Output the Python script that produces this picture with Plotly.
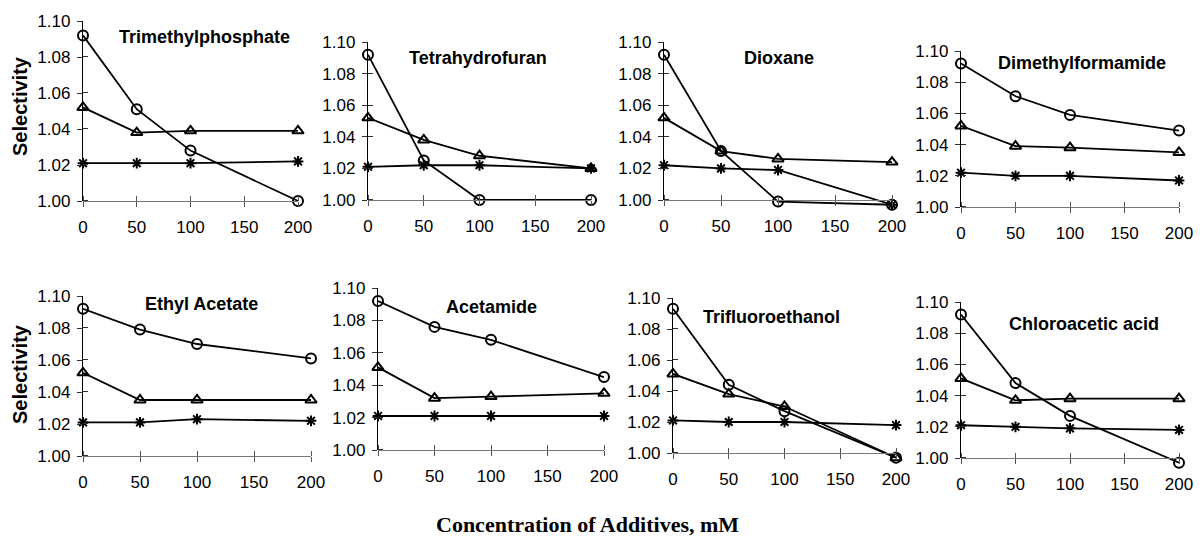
import plotly.graph_objects as go

# page body has an 8px margin, so the figure is drawn at (8, 8) inside the 1202x539 window
OFF = 8
W, H = 1202 - OFF, 539 - OFF


def fx(px):
    return (px - OFF) / W


def fy(py):
    return 1 - (py - OFF) / H


conc = [0, 50, 100, 200]
x_ticks = [0, 50, 100, 150, 200]
y_ticks = [1.00, 1.02, 1.04, 1.06, 1.08, 1.10]

titles = ["Trimethylphosphate", "Tetrahydrofuran", "Dioxane", "Dimethylformamide",
          "Ethyl Acetate", "Acetamide", "Trifluoroethanol", "Chloroacetic acid"]

circles = [
    [1.092, 1.051, 1.028, 1.000],
    [1.092, 1.025, 1.000, 1.000],
    [1.092, 1.031, 0.999, 0.997],
    [1.092, 1.071, 1.059, 1.049],
    [1.092, 1.079, 1.070, 1.061],
    [1.092, 1.076, 1.068, 1.045],
    [1.093, 1.044, 1.027, 0.997],
    [1.092, 1.048, 1.027, 0.997],
]
triangles = [
    [1.052, 1.038, 1.039, 1.039],
    [1.052, 1.038, 1.028, 1.020],
    [1.052, 1.031, 1.026, 1.024],
    [1.052, 1.039, 1.038, 1.035],
    [1.052, 1.035, 1.035, 1.035],
    [1.051, 1.032, 1.033, 1.035],
    [1.051, 1.038, 1.030, 0.997],
    [1.051, 1.037, 1.038, 1.038],
]
asterisks = [
    [1.021, 1.021, 1.021, 1.022],
    [1.021, 1.022, 1.022, 1.020],
    [1.022, 1.020, 1.019, 0.997],
    [1.022, 1.020, 1.020, 1.017],
    [1.021, 1.021, 1.023, 1.022],
    [1.021, 1.021, 1.021, 1.021],
    [1.021, 1.020, 1.020, 1.018],
    [1.021, 1.020, 1.019, 1.018],
]

# panel geometry in window pixels: (x0, x1, ytop, ybottom)
panels = [
    (83, 298, 21, 201), (368, 591, 42, 200), (664, 892, 42, 200), (961, 1179, 51, 207),
    (83, 311, 296, 456), (378, 604, 288, 450), (673, 896, 298, 453), (961, 1179, 302, 458),
]
title_pos = [(117, 37), (407, 58), (742, 58), (996, 63),
             (143, 304), (444, 307), (701, 317), (1007, 324)]

TICKFONT = dict(family="Arial, Liberation Sans, sans-serif", size=17, color="black")
Y_LO, Y_HI, Y_EXT = 1.0, 1.10, 0.99

fig = go.Figure()
layout = dict(
    width=W, height=H, margin=dict(l=0, r=0, t=0, b=0, autoexpand=False),
    paper_bgcolor="white", plot_bgcolor="rgba(0,0,0,0)", showlegend=False,
)
annotations = []

series = [
    (circles, "circle-open"),
    (triangles, "triangle-up-open"),
    (asterisks, "asterisk-open"),
]

# tiny offsets so inner tick marks are drawn alongside the outer ones (crossing ticks)
x_inner = [v + 0.01 for v in x_ticks]
y_inner = [v + 0.00001 for v in y_ticks]

for i in range(8):
    n = i + 1
    nd = n + 8  # display axis index
    xa = "x" if n == 1 else f"x{n}"
    ya = "y" if n == 1 else f"y{n}"
    yd = f"y{nd}"
    x0, x1, yt, yb = panels[i]
    # extended (hidden) data axis so points below 1.00 are not clipped
    yb_ext = yb + (yb - yt) * (Y_LO - Y_EXT) / (Y_HI - Y_LO)
    for data, sym in series:
        fig.add_trace(go.Scatter(
            x=conc, y=data[i], xaxis=xa, yaxis=ya, mode="lines+markers",
            line=dict(color="black", width=1.8),
            marker=dict(symbol=sym, size=10 if sym != "asterisk-open" else 9,
                        color="black", line=dict(color="black", width=2)),
            cliponaxis=False,
        ))
    # empty trace so the visible y axis (1.00-1.10) is rendered
    fig.add_trace(go.Scatter(x=[None], y=[None], xaxis=xa, yaxis=yd, mode="markers",
                             hoverinfo="skip"))
    layout[f"xaxis{n}"] = dict(
        domain=[fx(x0), fx(x1)], anchor="free", position=fy(yb), range=[0, 200],
        tickvals=x_ticks, ticks="outside", ticklen=5, tickcolor="#555",
        minor=dict(tickvals=x_inner, ticks="inside", ticklen=5, tickcolor="#555",
                   showgrid=False),
        showline=True, linecolor="#777", linewidth=1, showgrid=False, zeroline=False,
        tickfont=TICKFONT, ticklabelstandoff=6, automargin=False,
    )
    layout[f"yaxis{n}"] = dict(
        domain=[fy(yb_ext), fy(yt)], anchor=xa, range=[Y_EXT, Y_HI],
        visible=False, showgrid=False, zeroline=False, automargin=False,
    )
    layout[f"yaxis{nd}"] = dict(
        domain=[fy(yb), fy(yt)], anchor=xa, range=[Y_LO, Y_HI],
        tickvals=y_ticks, tickformat=".2f", ticks="outside", ticklen=5, tickcolor="#333",
        minor=dict(tickvals=y_inner, ticks="inside", ticklen=5, tickcolor="#333",
                   showgrid=False),
        showline=True, linecolor="black", linewidth=1.3, showgrid=False, zeroline=False,
        tickfont=TICKFONT, ticklabelstandoff=3, automargin=False,
    )
    tx, ty = title_pos[i]
    annotations.append(dict(
        text=f"<b>{titles[i]}</b>", xref="paper", yref="paper",
        x=fx(tx), y=fy(ty), xanchor="left", yanchor="middle", showarrow=False,
        font=dict(family="Arial, Liberation Sans, sans-serif", size=18, color="black"),
    ))

for yc in (106, 374):
    annotations.append(dict(
        text="<b>Selectivity</b>", xref="paper", yref="paper",
        x=fx(20), y=fy(yc), xanchor="center", yanchor="middle", textangle=-90,
        showarrow=False,
        font=dict(family="Arial, Liberation Sans, sans-serif", size=20, color="black"),
    ))

annotations.append(dict(
    text="<b>Concentration of Additives, mM</b>", xref="paper", yref="paper",
    x=fx(587), y=fy(524), xanchor="center", yanchor="middle", showarrow=False,
    font=dict(family="Times New Roman, Liberation Serif, serif", size=22, color="black"),
))

layout["annotations"] = annotations
fig.update_layout(**layout)
fig.write_html("out.html")
